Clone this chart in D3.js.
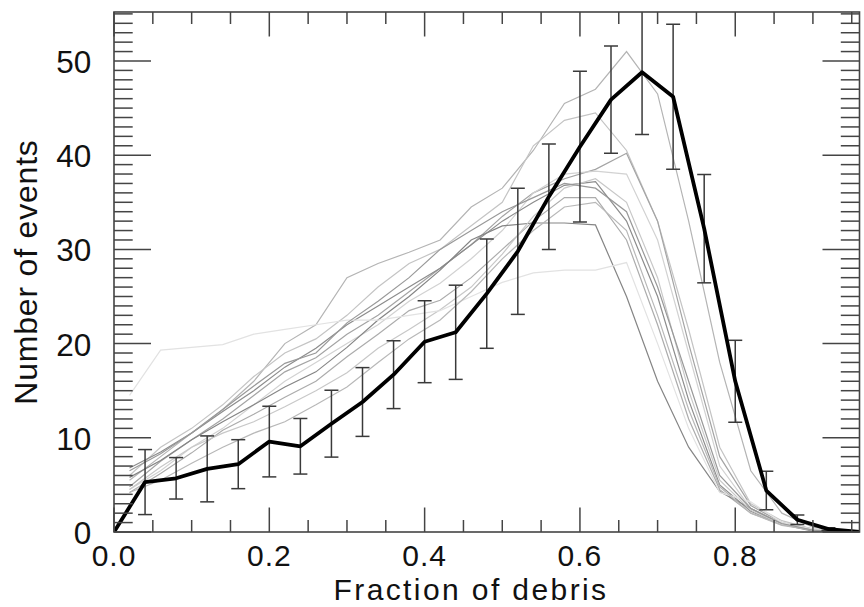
<!DOCTYPE html>
<html><head><meta charset="utf-8">
<script src="https://cdn.jsdelivr.net/npm/d3@7"></script>
<style>html,body{margin:0;padding:0;background:#fff;}svg{display:block;}</style>
</head><body>
<svg id="chart" width="864" height="607"></svg>
<script>
// ---- data ----
const meanX = [0,0.04,0.08,0.12,0.16,0.20,0.24,0.28,0.32,0.36,0.40,0.44,0.48,0.52,0.56,0.60,0.64,0.68,0.72,0.76,0.80,0.84,0.88,0.92,0.96];
const meanY = [0,5.3,5.7,6.7,7.2,9.6,9.1,11.5,13.8,16.7,20.2,21.2,25.3,29.8,35.6,40.9,45.9,48.8,46.2,32.2,16.0,4.4,1.3,0.3,0.0];
const meanErr = [0,3.45,2.2,3.5,2.6,3.75,2.95,3.55,3.65,3.6,4.35,5.0,5.8,6.7,5.6,8.0,5.7,6.6,7.7,5.75,4.35,2.05,0.5,0.15,0];

const runX = [0.02,0.06,0.10,0.14,0.18,0.22,0.26,0.30,0.34,0.38,0.42,0.46,0.50,0.54,0.58,0.62,0.66,0.70,0.74,0.78,0.82,0.86,0.90,0.94];
const run1 = [5.5,8.0,10.5,13.0,16.0,20.0,22.0,27.0,28.5,29.7,31.0,34.5,36.5,40.5,45.5,47.0,51.0,46.5,33.0,18.0,6.5,2.0,0.5,0.1];
const run2 = [6.0,9.0,11.0,13.5,16.5,19.0,20.5,23.0,26.0,28.5,30.0,32.5,35.0,41.0,43.7,44.5,40.5,33.0,21.5,9.0,3.0,1.2,0.3,0.1];
const run3 = [4.8,7.5,9.8,12.0,14.5,17.0,18.5,21.0,23.0,25.5,28.0,30.5,33.5,36.0,37.5,38.5,40.2,33.0,20.0,8.0,2.8,1.0,0.3,0.0];
const run4 = [4.5,6.5,9.0,11.0,13.5,16.0,18.0,20.0,22.0,24.5,26.4,29.0,32.0,36.0,38.0,38.3,38.0,31.0,19.0,7.0,2.5,1.0,0.2,0.0];
const run5 = [6.8,8.5,10.5,12.8,15.0,17.5,19.5,22.0,24.0,26.0,28.0,30.5,33.0,35.0,36.8,37.2,33.0,25.0,14.0,5.0,2.2,0.8,0.2,0.0];
const run6 = [4.2,6.2,8.4,10.8,12.5,14.3,16.0,18.6,21.0,23.5,24.6,27.0,30.0,33.0,35.5,35.5,31.0,22.0,12.0,4.5,2.0,0.8,0.2,0.0];
const run7 = [5.8,7.6,9.8,11.7,13.5,15.4,17.0,19.6,22.5,25.0,27.8,31.0,32.5,32.8,32.8,32.6,25.0,16.0,9.0,4.3,2.5,0.8,0.1,0.0];
const run8 = [4.5,6.9,9.0,10.5,11.7,13.3,15.0,16.9,19.5,21.5,23.6,26.0,29.5,33.5,36.5,37.5,35.0,27.0,15.0,5.5,2.3,0.8,0.2,0.0];
const run9 = [14.5,19.3,19.6,19.9,21.0,21.5,22.0,22.5,22.5,23.0,23.5,25.0,26.5,27.5,27.8,27.8,28.6,20.0,11.0,4.2,3.2,1.0,0.3,0.0];
const run10 = [4.2,5.5,7.3,9.0,10.5,11.7,13.5,15.4,18.0,20.5,22.5,25.5,29.0,32.0,34.5,35.0,32.0,23.0,13.0,4.8,2.0,0.7,0.2,0.0];
const run11 = [6.5,8.3,10.5,13.0,15.5,17.9,19.0,22.2,24.5,27.0,30.0,32.0,34.0,35.5,37.0,36.5,34.0,26.0,16.0,6.0,2.5,0.9,0.2,0.0];
const runs = [run1,run2,run3,run4,run5,run6,run7,run8,run9,run10,run11];
const runColors = ["#b4b4b4","#c4c4c4","#a4a4a4","#d2d2d2","#8c8c8c","#acacac","#858585","#c8c8c8","#e2e2e2","#b8b8b8","#999999"];

const xMajor = [0,0.2,0.4,0.6,0.8];
const xMajorLabels = ["0.0","0.2","0.4","0.6","0.8"];
const yMajor = [0,10,20,30,40,50];
const yMajorLabels = ["0","10","20","30","40","50"];
const xTitle = "Fraction of debris";
const yTitle = "Number of events";

// ---- layout ----
const L = 114, R = 859.5, T = 12, B = 532;
const x = d3.scaleLinear().domain([0, 0.96]).range([L, R]);
const y = d3.scaleLinear().domain([0, 55.2]).range([B, T]);
const svg = d3.select("#chart");
const font = "'Liberation Sans', Arial, Helvetica, sans-serif";

svg.append("defs").append("clipPath").attr("id","clip")
  .append("rect").attr("x",L).attr("y",T).attr("width",R-L).attr("height",B-T);
const plot = svg.append("g").attr("clip-path","url(#clip)");

const line = d3.line().x(d => x(d[0])).y(d => y(d[1]));

runs.forEach((r,i) => {
  plot.append("path")
    .datum(runX.map((xv,j) => [xv, r[j]]))
    .attr("d", line).attr("fill","none")
    .attr("stroke", runColors[i]).attr("stroke-width",1.2);
});

// error bars
const eb = plot.append("g").attr("stroke","#3a3a3a").attr("stroke-width",1.5).attr("fill","none");
meanX.forEach((xv,i) => {
  const e = meanErr[i];
  if (e <= 0) return;
  const px = x(xv), y1 = y(meanY[i]+e), y0 = y(meanY[i]-e);
  eb.append("line").attr("x1",px).attr("x2",px).attr("y1",y1).attr("y2",y0);
  eb.append("line").attr("x1",px-7).attr("x2",px+7).attr("y1",y1).attr("y2",y1);
  eb.append("line").attr("x1",px-7).attr("x2",px+7).attr("y1",y0).attr("y2",y0);
});

plot.append("path")
  .datum(meanX.map((xv,j) => [xv, meanY[j]]))
  .attr("d", line).attr("fill","none")
  .attr("stroke","#000").attr("stroke-width",3.8).attr("stroke-linejoin","round");

// axes (ticks inward, mirrored on all four sides)
const xMinor = d3.range(0, 0.951, 0.05).filter(v => !xMajor.some(m => Math.abs(m-v)<1e-6));
const yMinor = d3.range(0, 55.01, 1).filter(v => v % 10 !== 0);

function axisX(pos, dir) {
  const g = svg.append("g").attr("transform",`translate(0,${pos})`)
    .attr("stroke","#444").attr("stroke-width",1.5);
  g.selectAll("line.maj").data(xMajor).join("line").attr("class","maj")
    .attr("x1",d=>x(d)).attr("x2",d=>x(d)).attr("y1",0).attr("y2",dir*24.5);
  g.selectAll("line.min").data(xMinor).join("line").attr("class","min")
    .attr("x1",d=>x(d)).attr("x2",d=>x(d)).attr("y1",0).attr("y2",dir*12);
}
function axisY(pos, dir) {
  const g = svg.append("g").attr("transform",`translate(${pos},0)`)
    .attr("stroke","#444").attr("stroke-width",1.5);
  g.selectAll("line.maj").data(yMajor).join("line").attr("class","maj")
    .attr("y1",d=>y(d)).attr("y2",d=>y(d)).attr("x1",0).attr("x2",dir*37);
  g.selectAll("line.min").data(yMinor).join("line").attr("class","min")
    .attr("y1",d=>y(d)).attr("y2",d=>y(d)).attr("x1",0).attr("x2",dir*18.7);
}
axisX(B, -1);
axisX(T, 1);
axisY(L, 1);
axisY(R, -1);

svg.append("rect").attr("x",L).attr("y",T).attr("width",R-L).attr("height",B-T)
  .attr("fill","none").attr("stroke","#444").attr("stroke-width",1.6);

// tick labels
svg.append("g").selectAll("text").data(xMajor).join("text")
  .attr("x",d=>x(d)).attr("y",566)
  .attr("text-anchor","middle")
  .attr("font-family",font).attr("font-size",30).attr("letter-spacing","1px")
  .attr("fill","#111")
  .text((d,i)=>xMajorLabels[i]);
svg.append("g").selectAll("text").data(yMajor).join("text")
  .attr("x",91.3).attr("y",d=>y(d)+12)
  .attr("text-anchor","end")
  .attr("font-family",font).attr("font-size",31.5)
  .attr("fill","#111")
  .text((d,i)=>yMajorLabels[i]);

svg.append("text").attr("x",471).attr("y",600)
  .attr("text-anchor","middle").attr("font-family",font).attr("font-size",30)
  .attr("letter-spacing","2.4px").attr("fill","#111").text(xTitle);
svg.append("text").attr("transform","translate(37,272) rotate(-90)")
  .attr("text-anchor","middle").attr("font-family",font).attr("font-size",32)
  .attr("letter-spacing","0.8px").attr("fill","#111").text(yTitle);
</script>
</body></html>
